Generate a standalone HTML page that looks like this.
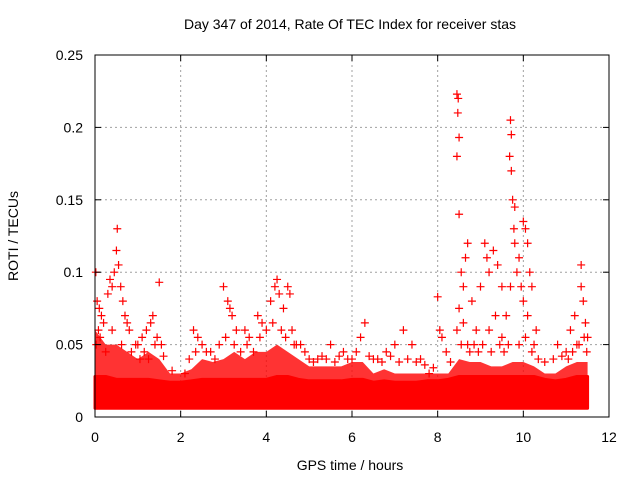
<!DOCTYPE html>
<html><head><meta charset="utf-8"><style>
body{margin:0;background:#fff;}
svg{display:block;font-family:"Liberation Sans",sans-serif;}
</style></head><body>
<svg id="chart" width="640" height="480">
<rect width="640" height="480" fill="#fff"/>
<g id="grid"></g>
<g id="marks"></g>
<g id="axes"></g>
<text x="350" y="29" font-size="14" text-anchor="middle">Day 347 of 2014, Rate Of TEC Index for receiver stas</text>
<text x="350" y="470" font-size="14" text-anchor="middle">GPS time / hours</text>
<text transform="translate(18,236) rotate(-90)" font-size="14" text-anchor="middle">ROTI / TECUs</text>
</svg>
<script>
const xTicks=[0,2,4,6,8,10,12];
const yTicks=[0,0.05,0.1,0.15,0.2,0.25];
const yTickLabels=["0","0.05","0.1","0.15","0.2","0.25"];
const bandT=[0,0.25,0.5,0.75,1,1.25,1.5,1.75,2,2.25,2.5,2.75,3,3.25,3.5,3.75,4,4.25,4.5,4.75,5,5.25,5.5,5.75,6,6.25,6.5,6.75,7,7.25,7.5,7.75,8,8.25,8.5,8.75,9,9.25,9.5,9.75,10,10.25,10.5,10.75,11,11.25,11.5];
const bandHi=[0.06,0.05,0.05,0.045,0.04,0.045,0.04,0.03,0.03,0.033,0.04,0.038,0.04,0.045,0.04,0.045,0.045,0.05,0.045,0.04,0.035,0.035,0.035,0.035,0.038,0.038,0.03,0.033,0.03,0.03,0.03,0.03,0.03,0.03,0.04,0.038,0.038,0.035,0.035,0.038,0.038,0.035,0.03,0.03,0.035,0.038,0.038];
const bandCore=[0.028,0.028,0.026,0.026,0.026,0.026,0.025,0.024,0.024,0.025,0.026,0.026,0.026,0.026,0.026,0.026,0.026,0.028,0.028,0.026,0.025,0.025,0.025,0.025,0.026,0.026,0.024,0.025,0.024,0.024,0.024,0.025,0.025,0.026,0.028,0.028,0.028,0.028,0.028,0.028,0.028,0.028,0.026,0.025,0.026,0.028,0.028];
const bandLo=[0.006,0.006,0.006,0.006,0.006,0.006,0.006,0.006,0.006,0.006,0.006,0.006,0.006,0.006,0.006,0.006,0.006,0.006,0.006,0.006,0.006,0.006,0.006,0.006,0.006,0.006,0.006,0.006,0.006,0.006,0.006,0.006,0.006,0.006,0.006,0.006,0.006,0.006,0.006,0.006,0.006,0.006,0.006,0.006,0.006,0.006,0.006];
const ptT=[0.02,0.05,0.1,0.15,0.2,0.08,0.03,0.3,0.35,0.4,0.45,0.5,0.52,0.55,0.6,0.65,0.7,0.75,0.8,1.0,1.1,1.2,1.3,1.35,1.45,1.5,1.55,2.1,2.3,2.4,2.6,3.0,3.1,3.15,3.2,3.3,3.5,3.6,3.8,3.9,4.1,4.2,4.25,4.3,4.4,4.5,4.55,4.6,4.7,4.8,5.2,5.5,5.8,6.0,6.2,6.3,6.5,6.8,7.0,7.2,7.4,7.6,7.8,8.0,8.05,8.1,8.2,8.45,8.48,8.47,8.5,8.45,8.5,8.55,8.6,8.65,8.7,8.5,8.6,8.8,8.9,8.45,8.7,9.0,9.1,9.15,9.2,9.3,9.4,9.5,9.35,9.2,9.5,9.7,9.72,9.68,9.72,9.75,9.8,9.78,9.8,9.85,9.9,9.95,10.0,10.05,10.1,10.15,10.2,10.0,10.1,9.7,9.6,10.3,10.25,10.8,11.0,11.1,11.2,11.35,11.35,11.4,11.45,11.5,11.3,
0.12,0.25,0.4,0.62,0.85,0.95,1.05,1.15,1.25,1.4,1.6,1.8,2.2,2.35,2.5,2.7,2.8,2.9,3.05,3.25,3.4,3.55,3.7,3.85,4.0,4.15,4.35,4.45,4.65,4.9,5.0,5.1,5.3,5.4,5.6,5.7,5.9,6.1,6.4,6.6,6.7,6.9,7.1,7.3,7.5,7.7,7.9,8.3,8.55,8.75,8.85,8.95,9.05,9.25,9.45,9.55,9.65,9.9,10.05,10.2,10.35,10.5,10.7,10.9,11.05,11.15,11.25,11.42,11.48];
const ptV=[0.1,0.08,0.075,0.07,0.065,0.06,0.05,0.085,0.095,0.09,0.1,0.115,0.13,0.105,0.09,0.08,0.07,0.065,0.06,0.05,0.055,0.06,0.065,0.07,0.055,0.093,0.05,0.03,0.06,0.055,0.045,0.09,0.08,0.075,0.07,0.06,0.06,0.055,0.07,0.065,0.08,0.09,0.095,0.085,0.075,0.09,0.085,0.06,0.05,0.05,0.04,0.05,0.045,0.04,0.055,0.065,0.04,0.045,0.05,0.06,0.05,0.04,0.03,0.083,0.06,0.055,0.045,0.223,0.22,0.21,0.193,0.18,0.14,0.1,0.09,0.11,0.12,0.075,0.065,0.08,0.06,0.06,0.05,0.09,0.12,0.11,0.1,0.115,0.105,0.09,0.07,0.06,0.055,0.205,0.195,0.18,0.17,0.15,0.145,0.13,0.12,0.1,0.11,0.09,0.135,0.13,0.12,0.1,0.09,0.08,0.07,0.09,0.07,0.06,0.05,0.05,0.045,0.06,0.07,0.105,0.09,0.08,0.065,0.055,0.05,
0.055,0.045,0.06,0.05,0.045,0.05,0.04,0.045,0.04,0.05,0.042,0.032,0.04,0.045,0.05,0.045,0.04,0.05,0.055,0.05,0.045,0.05,0.045,0.055,0.06,0.065,0.06,0.055,0.05,0.045,0.04,0.038,0.042,0.04,0.038,0.042,0.04,0.045,0.042,0.04,0.038,0.042,0.038,0.04,0.038,0.036,0.034,0.038,0.05,0.045,0.05,0.045,0.05,0.045,0.05,0.045,0.05,0.05,0.055,0.045,0.04,0.038,0.04,0.042,0.04,0.045,0.05,0.055,0.045];

const L=95,R=609,T=55,B=417;
const xs=t=>L+(t-0)/12*(R-L);
const ys=v=>B-(v/0.25)*(B-T);
const NS="http://www.w3.org/2000/svg";
function mk(tag,attrs,parent){const e=document.createElementNS(NS,tag);for(const k in attrs)e.setAttribute(k,attrs[k]);parent.appendChild(e);return e;}
const grid=document.getElementById('grid'),axes=document.getElementById('axes'),marks=document.getElementById('marks');
xTicks.forEach((t,i)=>{
  const x=xs(t);
  if(i>0&&i<xTicks.length-1){const g=mk('line',{x1:x,x2:x,y1:T,y2:B,stroke:'#a0a0a0','stroke-dasharray':'2,3'},grid);
  
  }
  mk('line',{x1:x,x2:x,y1:B,y2:B-6,stroke:'#000'},axes);
  mk('line',{x1:x,x2:x,y1:T,y2:T+6,stroke:'#000'},axes);
  const tx=mk('text',{x:x,y:B+25,'font-size':14,'text-anchor':'middle'},axes);tx.textContent=t;
  
  
});
yTicks.forEach((v,i)=>{
  const y=ys(v);
  if(i>0&&i<yTicks.length-1){const g=mk('line',{x1:L,x2:R,y1:y,y2:y,stroke:'#a0a0a0','stroke-dasharray':'2,3'},grid);
  
  }
  mk('line',{x1:L,x2:L+6,y1:y,y2:y,stroke:'#000'},axes);
  mk('line',{x1:R,x2:R-6,y1:y,y2:y,stroke:'#000'},axes);
  const tx=mk('text',{x:L-12,y:y+5,'font-size':14,'text-anchor':'end'},axes);tx.textContent=yTickLabels[i];
  
  
});
const box=mk('rect',{x:L,y:T,width:R-L,height:B-T,fill:'none',stroke:'#000'},axes);


function band(hi,op,sw,name){
  let d='M'+xs(bandT[0])+','+ys(bandLo[0]);
  bandT.forEach((t,i)=>{d+=' L'+xs(t)+','+ys(hi[i]);});
  for(let i=bandT.length-1;i>=0;i--)d+=' L'+xs(bandT[i])+','+ys(bandLo[i]);
  const p=mk('path',{d:d+'Z',fill:'#ff0000','fill-opacity':op,stroke:'#ff0000','stroke-width':sw,'stroke-linejoin':'round'},marks);
  
  
}
band(bandHi,0.8,0,'dense-envelope');
band(bandCore,1,3,'dense-core');
ptT.forEach((t,i)=>{
  const x=xs(t),y=ys(ptV[i]);
  const p=mk('path',{d:`M${x-4},${y}H${x+4}M${x},${y-4}V${y+4}`,stroke:'#ff0000','stroke-width':1.2,fill:'none'},marks);
  
  
});
</script>
</body></html>
